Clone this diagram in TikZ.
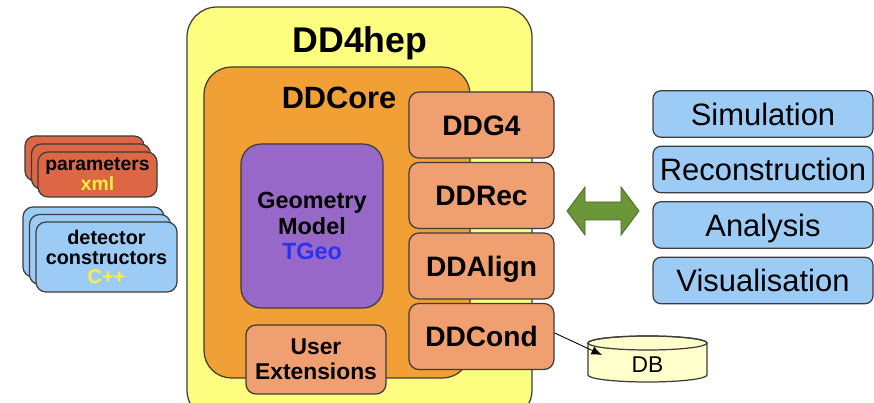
\documentclass[tikz,border=0pt]{standalone}
\usepackage{fontspec}
\setmainfont{Liberation Sans}
\usetikzlibrary{arrows.meta,positioning,calc}
\definecolor{hepyellow}{RGB}{253,253,128}
\definecolor{coreorange}{RGB}{240,160,52}
\definecolor{geopurple}{RGB}{152,104,200}
\definecolor{pkgsalmon}{RGB}{240,160,112}
\definecolor{parred}{RGB}{221,102,68}
\definecolor{appblue}{RGB}{156,204,245}
\definecolor{linkgreen}{RGB}{106,150,56}
\definecolor{dbyellow}{RGB}{255,255,204}
\definecolor{edgegray}{RGB}{60,60,60}
\definecolor{tgeoblue}{RGB}{40,50,240}
\definecolor{txtyellow}{RGB}{255,238,60}
\tikzset{
  card/.style={draw=edgegray, line width=0.7pt, rounded corners=0.2cm, inner sep=0pt, align=center},
  pkg/.style={card, fill=pkgsalmon, minimum width=2.9cm, minimum height=1.32cm,
    font=\bfseries\fontsize{16}{18}\selectfont, text height=11.5pt, text depth=0pt},
  app/.style={card, fill=appblue, rounded corners=0.16cm, minimum width=4.4cm, minimum height=0.93cm,
    font=\fontsize{17.6}{20}\selectfont, text height=12.6pt, text depth=0pt},
  parcard/.style={card, fill=parred, minimum width=2.38cm, minimum height=0.9cm},
  detcard/.style={card, fill=appblue, minimum width=2.82cm, minimum height=1.4cm},
}

\begin{document}
\begin{tikzpicture}
\useasboundingbox (0,0) rectangle (17.48,-8.06);
% =============================================
% - containers.
\draw [draw=edgegray, line width=0.7pt, fill=hepyellow, rounded corners=0.6cm] (3.74,-0.14) rectangle (10.64,-8.4);
\node [font=\bfseries\fontsize{20.3}{24}\selectfont, anchor=base] (hep) at (7.2,-1.06) {DD4hep};
\draw [draw=edgegray, line width=0.7pt, fill=coreorange, rounded corners=0.55cm] (4.08,-1.34) rectangle (9.4,-7.56);
\node [font=\bfseries\fontsize{17.5}{21}\selectfont, anchor=base] (core) at (6.78,-2.17) {DDCore};
%
\node [card, fill=geopurple, rounded corners=0.4cm, minimum width=2.84cm, minimum height=3.28cm,
  font=\bfseries\fontsize{13.3}{14.7}\selectfont] (geo) at (6.24,-4.52)
  {Geometry\\Model\\\textcolor{tgeoblue}{TGeo}};
\node [card, fill=pkgsalmon, minimum width=2.8cm, minimum height=1.38cm,
  font=\bfseries\fontsize{13}{14.2}\selectfont] (user) at (6.32,-7.19) {User\\Extensions};
% - packages.
\foreach \name/\txt/\y in {ddg4/DDG4/-2.5, ddrec/DDRec/-3.91, ddalign/DDAlign/-5.32, ddcond/DDCond/-6.73}
  \node [pkg] (\name) at (9.63,\y) {\txt};
% =============================================
% - inputs.
\foreach \k in {2,1}
  \node [parcard] (par\k) at ($(1.95,-3.49)+(-0.13*\k,0.16*\k)$) {};
\node [parcard, font=\bfseries\fontsize{11}{11.4}\selectfont] (par0) at (1.95,-3.49)
  {parameters\\\textcolor{txtyellow}{xml}};
\foreach \k in {2,1}
  \node [detcard] (det\k) at ($(2.13,-5.14)+(-0.13*\k,0.15*\k)$) {};
\node [detcard, font=\bfseries\fontsize{11.3}{11.2}\selectfont] (det0) at (2.13,-5.14)
  {detector\\constructors\\\textcolor{txtyellow}{C++}};
% =============================================
% - applications.
\foreach \name/\txt/\y in {sim/Simulation/-2.28, reco/Reconstruction/-3.39, ana/Analysis/-4.5, vis/Visualisation/-5.61}
  \node [app] (\name) at (15.26,\y) {\txt};
% - double arrow.
\filldraw [fill=linkgreen, draw=linkgreen!70!black, line width=0.5pt]
  (11.34,-4.22) -- (11.7,-3.74) -- (11.7,-4.04) -- (12.42,-4.04) -- (12.42,-3.74) -- (12.78,-4.22)
  -- (12.42,-4.70) -- (12.42,-4.40) -- (11.7,-4.40) -- (11.7,-4.70) -- cycle;
% =============================================
% - DB.
\filldraw [fill=dbyellow, draw=edgegray, line width=0.7pt]
  (11.76,-6.86) -- (11.76,-7.5) arc [start angle=180, end angle=360, x radius=1.19cm, y radius=0.14cm]
  -- (14.14,-6.86) arc [start angle=0, end angle=180, x radius=1.19cm, y radius=0.14cm] -- cycle;
\draw [draw=edgegray, line width=0.7pt] (12.95,-6.86) ellipse [x radius=1.19cm, y radius=0.14cm];
\node [font=\fontsize{13}{15}\selectfont] (db) at (12.95,-7.3) {DB};
\coordinate (dbin) at (12.04,-7.1);
\draw [black, line width=0.5pt, -{Latex[length=6pt,width=5pt]}] ([yshift=2pt]ddcond.east) -- (dbin);
% =============================================
\end{tikzpicture}
\end{document}
